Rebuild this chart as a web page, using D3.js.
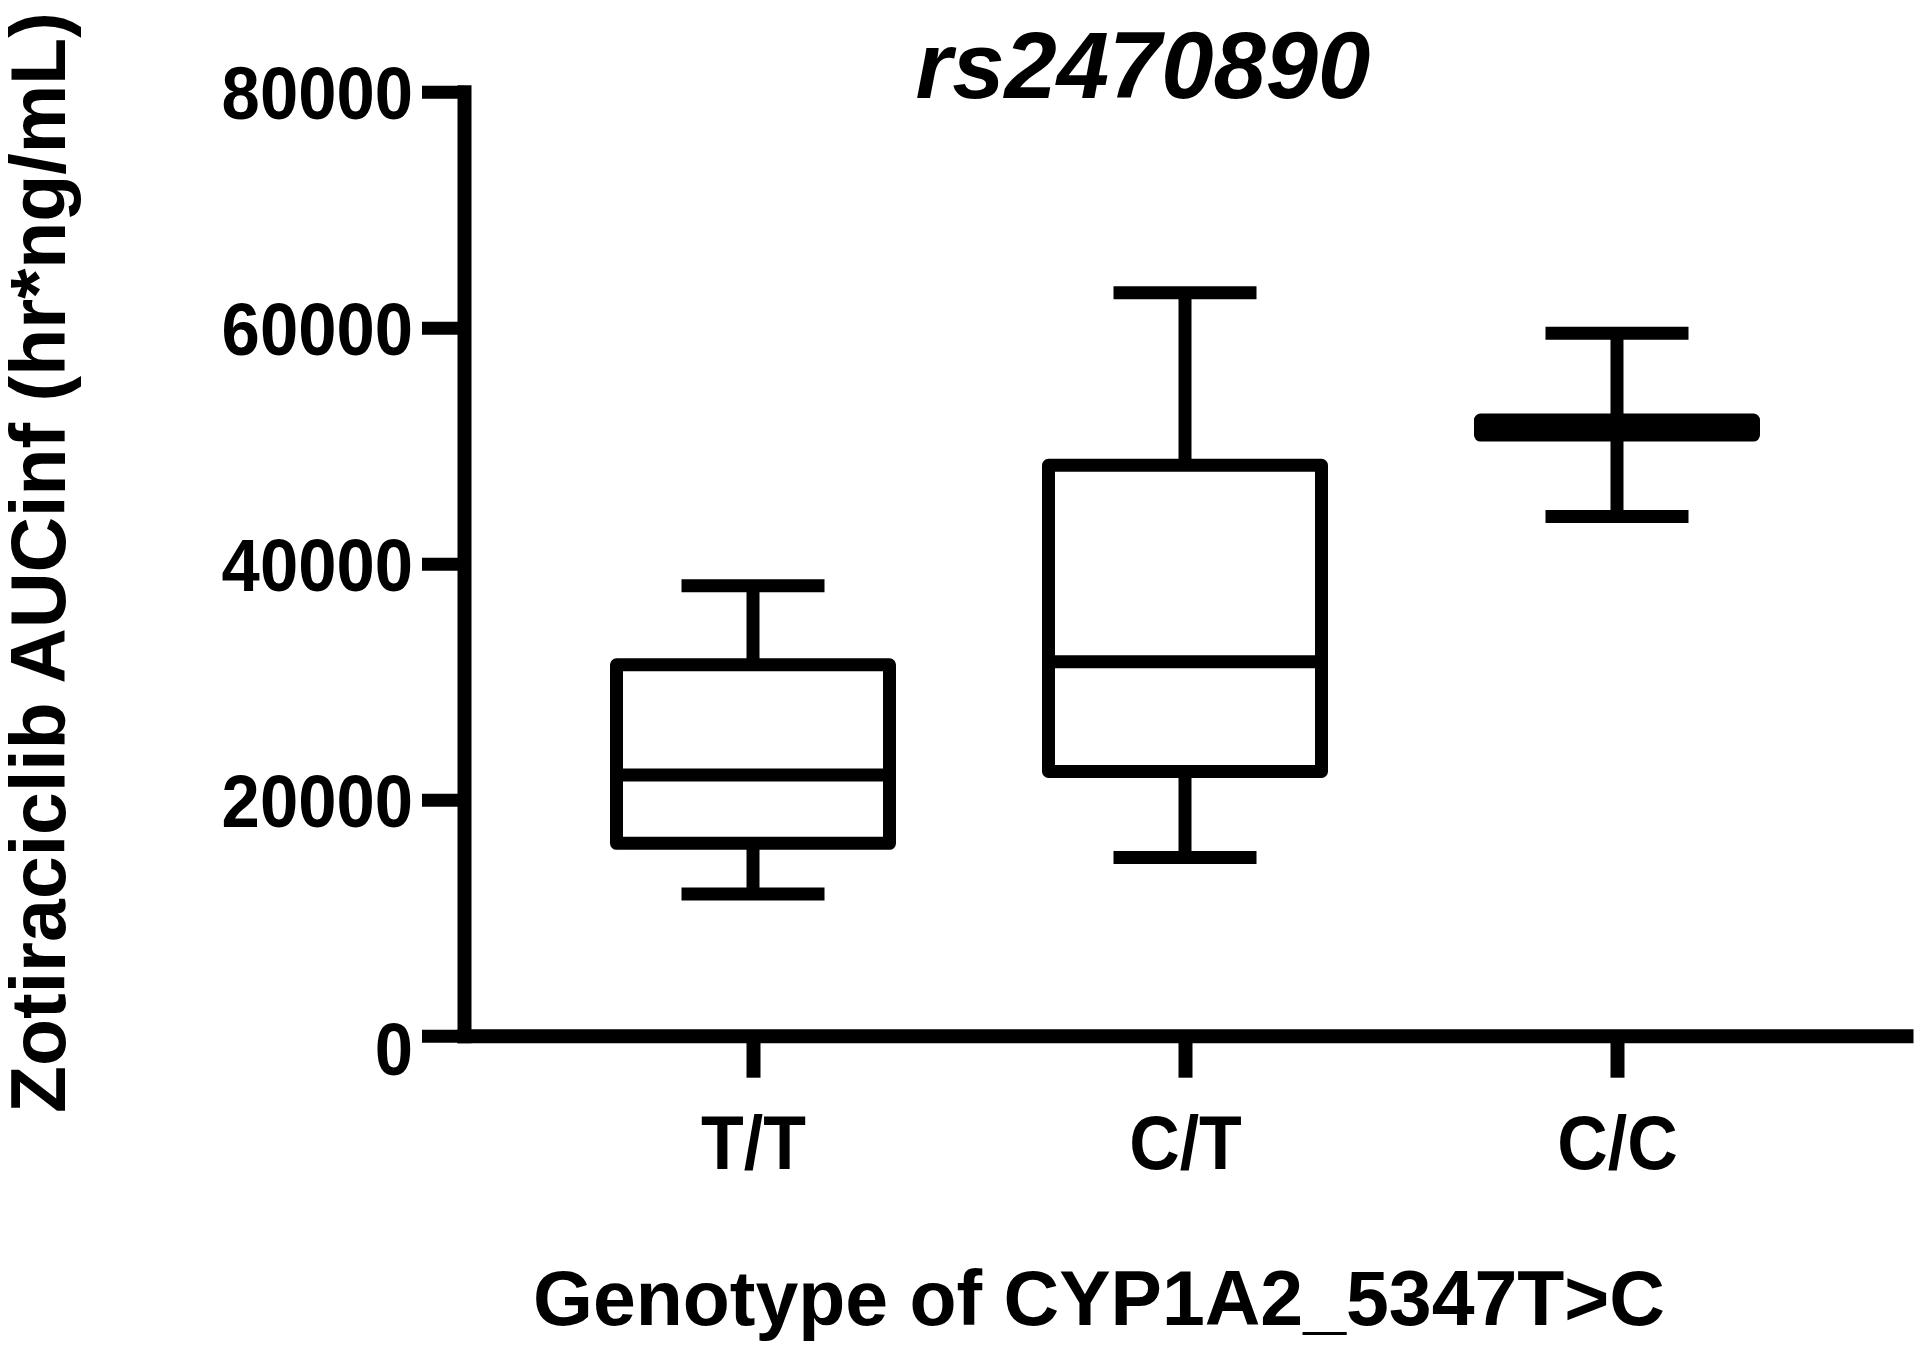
<!DOCTYPE html>
<html><head><meta charset="utf-8">
<script src="https://cdn.jsdelivr.net/npm/d3@7"></script>
<style>body{margin:0;background:#fff}</style>
</head><body>
<svg id="c" width="1920" height="1353"></svg>
<script>
const categories = ["T/T", "C/T", "C/C"];
const whiskerLow = [12000, 15100, 44000];
const q1 = [16300, 22400, 50900];
const median = [22100, 31700, 51540];
const q3 = [31430, 48340, 52170];
const whiskerHigh = [38130, 62970, 59540];
const yTicks = [0, 20000, 40000, 60000, 80000];
const titleText = "rs2470890";
const xTitle = "Genotype of CYP1A2_5347T>C";
const yTitle = "Zotiraciclib AUCinf (hr*ng/mL)";

const FONT = "'Liberation Sans', Arial, Helvetica, sans-serif";
const svg = d3.select("#c");
const x = d3.scalePoint().domain(categories).range([464, 1906]).padding(0.669);
const y = d3.scaleLinear().domain([0, 80000]).range([1035.7, 91.7]);
const SW = 13, boxW = 273, capW = 143;

function compress(sel, f) {
  sel.each(function() {
    const w = this.getComputedTextLength();
    d3.select(this).attr("textLength", w * f).attr("lengthAdjust", "spacingAndGlyphs");
  });
}

// Y axis
const ya = svg.append("g").attr("transform", "translate(464,0)")
  .call(d3.axisLeft(y).tickValues(yTicks).tickSize(42).tickSizeOuter(0).tickPadding(9).tickFormat(d3.format("d")));
ya.select(".domain").attr("stroke", "#000").attr("stroke-width", 14).attr("stroke-linecap", "square");
ya.selectAll(".tick line").attr("stroke", "#000").attr("stroke-width", 13);
ya.selectAll(".tick text").attr("font-family", FONT).attr("font-weight", "bold").attr("font-size", 74).attr("fill", "#000")
  .attr("dy", "0.36em");
ya.selectAll(".tick").filter(d => d === 0).select("text").attr("dy", "0.53em");
compress(ya.selectAll(".tick text"), 0.93);

// X axis
const xa = svg.append("g").attr("transform", "translate(0,1035.7)")
  .call(d3.axisBottom(x).tickSize(42).tickSizeOuter(0).tickPadding(37));
xa.select(".domain").attr("stroke", "#000").attr("stroke-width", 14).attr("stroke-linecap", "square");
xa.selectAll(".tick line").attr("stroke", "#000").attr("stroke-width", 14);
xa.selectAll(".tick text").attr("font-family", FONT).attr("font-weight", "bold").attr("font-size", 76).attr("fill", "#000");
compress(xa.selectAll(".tick text"), 0.92);

// Boxes
const data = categories.map((c, i) => ({c, lo: whiskerLow[i], q1: q1[i], med: median[i], q3: q3[i], hi: whiskerHigh[i]}));
const g = svg.append("g").attr("stroke", "#000").attr("stroke-width", SW).attr("fill", "none");
const bx = g.selectAll("g.box").data(data).join("g").attr("class", "box");
bx.append("line").attr("x1", d => x(d.c)).attr("x2", d => x(d.c)).attr("y1", d => y(d.hi)).attr("y2", d => y(d.q3));
bx.append("line").attr("x1", d => x(d.c)).attr("x2", d => x(d.c)).attr("y1", d => y(d.q1)).attr("y2", d => y(d.lo));
bx.append("line").attr("x1", d => x(d.c) - capW / 2).attr("x2", d => x(d.c) + capW / 2).attr("y1", d => y(d.hi)).attr("y2", d => y(d.hi));
bx.append("line").attr("x1", d => x(d.c) - capW / 2).attr("x2", d => x(d.c) + capW / 2).attr("y1", d => y(d.lo)).attr("y2", d => y(d.lo));
bx.append("rect").attr("x", d => x(d.c) - boxW / 2).attr("width", boxW)
  .attr("y", d => y(d.q3)).attr("height", d => y(d.q1) - y(d.q3))
  .attr("stroke-linejoin", "round").attr("fill", "none");
bx.append("line").attr("x1", d => x(d.c) - boxW / 2).attr("x2", d => x(d.c) + boxW / 2).attr("y1", d => y(d.med)).attr("y2", d => y(d.med));

// Title
svg.append("text").attr("x", 1143).attr("y", 98).attr("text-anchor", "middle")
  .attr("font-family", FONT).attr("font-weight", "bold").attr("font-style", "italic").attr("font-size", 94).text(titleText);
// X title
svg.append("text").attr("x", 1099).attr("y", 1325).attr("text-anchor", "middle")
  .attr("font-family", FONT).attr("font-weight", "bold").attr("font-size", 77).text(xTitle);
// Y title
svg.append("text").attr("transform", "translate(65,1113) rotate(-90)").attr("text-anchor", "start")
  .attr("font-family", FONT).attr("font-weight", "bold").attr("font-size", 77).text(yTitle);
</script>
</body></html>
